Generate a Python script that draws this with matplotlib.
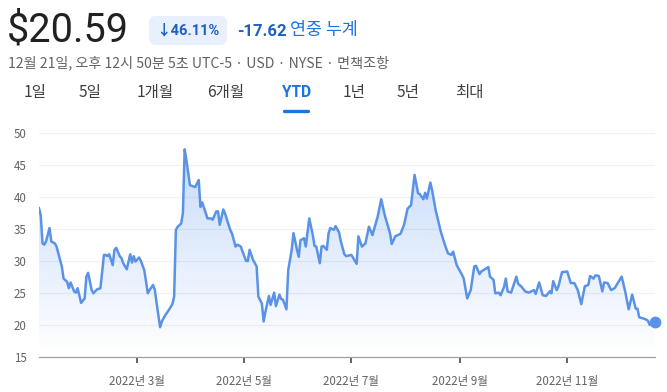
import matplotlib
matplotlib.use('Agg')
import matplotlib.pyplot as plt
import numpy as np
import pandas as pd
import matplotlib.dates as mdates
from matplotlib.patches import FancyBboxPatch
from matplotlib.lines import Line2D

KR = ['Noto Sans CJK KR', 'DejaVu Sans']
NUM = ['Roboto', 'Noto Sans CJK KR', 'DejaVu Sans']
plt.rcParams['font.family'] = KR

# ---------------- data ----------------
price_text = "$20.59"
change_pct = "↓46.11%"
change_abs = "-17.62"
period_label = "연중 누계"
subtitle = "12월 21일, 오후 12시 50분 5초 UTC-5 · USD · NYSE · 면책조항"
tabs = ["1일", "5일", "1개월", "6개월", "YTD", "1년", "5년", "최대"]
active_tab = "YTD"

dates = [
    "2022-01-04", "2022-01-05", "2022-01-06", "2022-01-07", "2022-01-08", "2022-01-10",
    "2022-01-11", "2022-01-13", "2022-01-14", "2022-01-15", "2022-01-17", "2022-01-18",
    "2022-01-20", "2022-01-21", "2022-01-22", "2022-01-24", "2022-01-25", "2022-01-26",
    "2022-01-28", "2022-01-30", "2022-01-31", "2022-02-01", "2022-02-03", "2022-02-04",
    "2022-02-06", "2022-02-08", "2022-02-10", "2022-02-11", "2022-02-12", "2022-02-13",
    "2022-02-15", "2022-02-16", "2022-02-17", "2022-02-19", "2022-02-20", "2022-02-21",
    "2022-02-23", "2022-02-25", "2022-02-26", "2022-02-27", "2022-02-28", "2022-03-02",
    "2022-03-03", "2022-03-05", "2022-03-07", "2022-03-08", "2022-03-10", "2022-03-11",
    "2022-03-12", "2022-03-14", "2022-03-15", "2022-03-17", "2022-03-18", "2022-03-19",
    "2022-03-21", "2022-03-22", "2022-03-23", "2022-03-24", "2022-03-26", "2022-03-27",
    "2022-03-28", "2022-03-29", "2022-03-31", "2022-04-01", "2022-04-03", "2022-04-05",
    "2022-04-06", "2022-04-07", "2022-04-09", "2022-04-10", "2022-04-12", "2022-04-13",
    "2022-04-15", "2022-04-16", "2022-04-17", "2022-04-19", "2022-04-20", "2022-04-22",
    "2022-04-23", "2022-04-24", "2022-04-26", "2022-04-27", "2022-04-29", "2022-04-30",
    "2022-05-02", "2022-05-03", "2022-05-04", "2022-05-06", "2022-05-08", "2022-05-09",
    "2022-05-11", "2022-05-12", "2022-05-13", "2022-05-15", "2022-05-16", "2022-05-18",
    "2022-05-19", "2022-05-21", "2022-05-22", "2022-05-23", "2022-05-25", "2022-05-26",
    "2022-05-28", "2022-05-29", "2022-05-31", "2022-06-01", "2022-06-02", "2022-06-04",
    "2022-06-05", "2022-06-07", "2022-06-09", "2022-06-10", "2022-06-11", "2022-06-13",
    "2022-06-14", "2022-06-15", "2022-06-17", "2022-06-18", "2022-06-19", "2022-06-21",
    "2022-06-22", "2022-06-24", "2022-06-25", "2022-06-27", "2022-06-28", "2022-07-01",
    "2022-07-04", "2022-07-05", "2022-07-07", "2022-07-09", "2022-07-11", "2022-07-13",
    "2022-07-16", "2022-07-18", "2022-07-20", "2022-07-23", "2022-07-24", "2022-07-26",
    "2022-07-29", "2022-07-31", "2022-08-02", "2022-08-04", "2022-08-06", "2022-08-08",
    "2022-08-09", "2022-08-11", "2022-08-12", "2022-08-13", "2022-08-15", "2022-08-16",
    "2022-08-18", "2022-08-21", "2022-08-23", "2022-08-25", "2022-08-27", "2022-08-28",
    "2022-08-30", "2022-09-02", "2022-09-03", "2022-09-05", "2022-09-07", "2022-09-09",
    "2022-09-10", "2022-09-12", "2022-09-13", "2022-09-15", "2022-09-17", "2022-09-18",
    "2022-09-20", "2022-09-21", "2022-09-23", "2022-09-24", "2022-09-26", "2022-09-27",
    "2022-09-28", "2022-09-30", "2022-10-03", "2022-10-04", "2022-10-06", "2022-10-08",
    "2022-10-10", "2022-10-13", "2022-10-14", "2022-10-16", "2022-10-18", "2022-10-20",
    "2022-10-22", "2022-10-23", "2022-10-24", "2022-10-26", "2022-10-27", "2022-10-29",
    "2022-11-01", "2022-11-03", "2022-11-05", "2022-11-07", "2022-11-09", "2022-11-11",
    "2022-11-13", "2022-11-14", "2022-11-16", "2022-11-17", "2022-11-19", "2022-11-21",
    "2022-11-22", "2022-11-24", "2022-11-26", "2022-11-28", "2022-11-30", "2022-12-02",
    "2022-12-04", "2022-12-06", "2022-12-08", "2022-12-10", "2022-12-11", "2022-12-12",
    "2022-12-14", "2022-12-16", "2022-12-17", "2022-12-18", "2022-12-20", "2022-12-21",
]
values = [
    38.3, 37.2, 32.8, 32.6, 33.1, 35.2,
    33.1, 32.8, 32.3, 31.25, 29.2, 27.3,
    26.8, 25.8, 26.7, 25.3, 25.1, 25.8,
    23.5, 24.2, 27.6, 28.2, 25.5, 25.0,
    25.6, 25.8, 31.0, 31.0, 30.8, 31.1,
    29.4, 31.8, 32.1, 30.8, 30.5, 29.7,
    28.75, 31.1, 29.8, 30.8, 29.95, 30.6,
    30.1, 28.6, 25.0, 25.5, 26.3, 25.5,
    23.5, 19.7, 20.6, 21.6, 22.0, 22.4,
    23.3, 24.5, 34.9, 35.4, 35.9, 37.5,
    47.5, 45.8, 41.9, 41.8, 41.6, 42.7,
    38.5, 39.2, 37.5, 36.7, 36.7, 36.5,
    37.8, 37.8, 35.7, 38.1, 37.5, 35.7,
    34.9, 34.3, 32.3, 32.6, 32.3, 31.5,
    30.05, 30.05, 31.8, 30.2, 29.2, 24.5,
    23.4, 20.6, 22.1, 24.6, 23.2, 25.1,
    23.0, 24.8, 24.1, 24.0, 22.5, 28.6,
    31.8, 34.4, 31.8, 30.7, 33.3, 33.6,
    32.3, 36.7, 34.1, 32.4, 32.3, 29.7,
    32.3, 32.4, 31.8, 34.4, 35.2, 34.9,
    35.5, 34.5, 33.1, 31.1, 30.8, 31.0,
    29.6, 33.9, 32.3, 32.8, 35.4, 34.1,
    37.0, 39.7, 37.2, 34.4, 32.7, 33.9,
    34.3, 35.7, 38.2, 38.8, 43.5, 40.6,
    40.5, 39.7, 40.7, 39.8, 42.3, 41.1,
    38.0, 34.6, 32.8, 31.25, 31.0, 31.5,
    29.4, 27.9, 27.3, 24.2, 25.5, 29.2,
    29.3, 28.0, 28.4, 28.75, 29.1, 27.6,
    27.1, 25.0, 25.1, 24.7, 26.0, 27.3,
    25.3, 25.1, 27.6, 26.5, 26.0, 25.3,
    25.1, 25.5, 24.9, 26.7, 24.7, 24.6,
    25.3, 25.0, 26.9, 25.5, 26.1, 28.3,
    28.4, 26.6, 26.6, 25.5, 23.3, 26.1,
    26.3, 27.7, 27.3, 27.8, 27.7, 25.3,
    26.7, 26.6, 25.5, 25.8, 26.7, 27.6,
    25.3, 22.5, 24.8, 22.6, 22.6, 21.25,
    21.1, 20.9, 20.7, 20.05, 20.6, 20.59,
]
y_ticks = [15, 20, 25, 30, 35, 40, 45, 50]
x_tick_dates = ["2022-03-01", "2022-05-01", "2022-07-01", "2022-09-01", "2022-11-01"]
x_tick_labels = ["2022년 3월", "2022년 5월", "2022년 7월", "2022년 9월", "2022년 11월"]

# ---------------- figure ----------------
W, H = 667, 392
fig = plt.figure(figsize=(W / 100, H / 100), dpi=100, facecolor='white')

# overlay in pixel coordinates for the header
ov = fig.add_axes([0, 0, 1, 1], zorder=0)
ov.set_xlim(0, W)
ov.set_ylim(H, 0)
ov.axis('off')

ov.text(7, 30, price_text, fontsize=28.5, color='#202124', family=NUM,
        va='center', ha='left')
badge = FancyBboxPatch((149, 16), 78, 29, boxstyle="round,pad=0,rounding_size=7",
                       facecolor='#e8f0fe', edgecolor='none')
ov.add_patch(badge)
ov.text(188, 30.5, change_pct, fontsize=10.5, color='#1f5fbf', family=NUM,
        fontweight='bold', va='center', ha='center')
ov.text(237, 31, change_abs, fontsize=12, color='#1f5fbf', family=NUM,
        fontweight='bold', va='center', ha='left')
ov.text(290, 30, period_label, fontsize=12.5, color='#1a73e8', family=KR,
        va='center', ha='left')
ov.text(8, 63, subtitle, fontsize=10.15, color='#5f6368', family=KR,
        va='center', ha='left')

tab_x = [24, 79, 137, 207, 282, 343, 397, 455]
for t, x in zip(tabs, tab_x):
    active = (t == active_tab)
    ov.text(x, 92, t, fontsize=11.2, family=NUM if t == "YTD" else KR,
            color='#1a73e8' if active else '#3c4043',
            fontweight='bold' if active else 'medium', va='center', ha='left')
    if active:
        ov.add_line(Line2D([284, 308], [110.5, 110.5], color='#1a73e8', lw=2.4,
                           solid_capstyle='round'))

# ---------------- chart ----------------
left, right = 39 / W, 655 / W
top, bottom = 1 - 133.3 / H, 1 - 357.3 / H
ax = fig.add_axes([left, bottom, right - left, top - bottom], zorder=1)
ax.patch.set_alpha(0)

xd = mdates.date2num(pd.to_datetime(dates))
yv = np.array(values)

ymin, ymax = 15, 50
poly = ax.fill_between(xd, yv, ymin, facecolor='none', edgecolor='none')
n = 256
grad = np.zeros((n, 1, 4))
grad[:, 0, 0] = 66 / 255
grad[:, 0, 1] = 133 / 255
grad[:, 0, 2] = 244 / 255
grad[:, 0, 3] = np.linspace(0.32, 0.0, n)
im = ax.imshow(grad, extent=[xd[0], xd[-1], ymin, ymax], aspect='auto',
               origin='upper', zorder=1, interpolation='bilinear')
im.set_clip_path(poly.get_paths()[0], transform=ax.transData)

ax.plot(xd, yv, color='#5a93e6', lw=1.8, zorder=3, solid_joinstyle='round')
ax.plot([xd[-1]], [yv[-1]], 'o', ms=8.5, color='#5a93e6', zorder=4, clip_on=False,
        markeredgewidth=0)

ax.set_xlim(xd[0], xd[-1])
ax.set_ylim(ymin, ymax)

for yt in y_ticks[1:]:
    ax.axhline(yt, color='#f0f0f0', lw=0.9, zorder=0)

ax.set_yticks(y_ticks)
ax.set_yticklabels([str(v) for v in y_ticks])
ax.tick_params(axis='y', length=0, pad=9, labelsize=8.3, labelcolor='#5f6368')

ax.set_xticks(mdates.date2num(pd.to_datetime(x_tick_dates)))
ax.set_xticklabels(x_tick_labels)
ax.tick_params(axis='x', length=4.5, width=1.4, color='#5f6368', pad=8,
               labelsize=8.3, labelcolor='#5f6368')

for s in ['top', 'right', 'left']:
    ax.spines[s].set_visible(False)
ax.spines['bottom'].set_color('#9aa0a6')
ax.spines['bottom'].set_linewidth(0.9)

fig.savefig('out.png', dpi=100, facecolor='white')
